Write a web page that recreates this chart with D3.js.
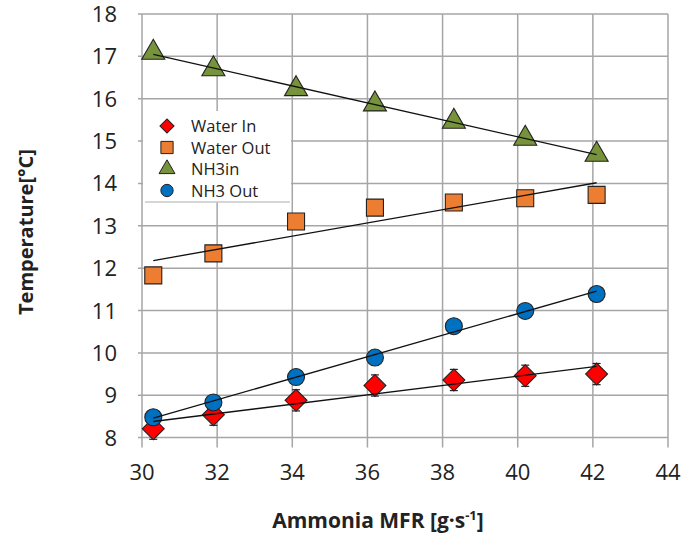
<!DOCTYPE html>
<html lang="en">
<head>
<meta charset="utf-8">
<script src="https://cdn.jsdelivr.net/npm/d3@7"></script>
<style>
  body { margin: 0; background: #fff; }
  text { font-family: "Open Sans", "Noto Sans", sans-serif; fill: #222; }
</style>
</head>
<body>
<script>
// data
var mfr = [30.3, 31.9, 34.1, 36.2, 38.3, 40.2, 42.1];
var waterIn = [8.21, 8.54, 8.88, 9.23, 9.36, 9.46, 9.5];
var waterInErr = [0.25, 0.25, 0.25, 0.25, 0.25, 0.25, 0.25];
var waterOut = [11.83, 12.35, 13.1, 13.43, 13.55, 13.65, 13.73];
var nh3In = [17.09, 16.7, 16.23, 15.87, 15.46, 15.06, 14.68];
var nh3Out = [8.48, 8.83, 9.43, 9.89, 10.63, 10.99, 11.39];
var xTicks = [30, 32, 34, 36, 38, 40, 42, 44];
var yTicks = [8, 9, 10, 11, 12, 13, 14, 15, 16, 17, 18];

var W = 682, H = 535;
var svg = d3.select("body").append("svg").attr("width", W).attr("height", H);

var x = d3.scaleLinear().domain([30, 44]).range([142, 668]);
var y = d3.scaleLinear().domain([8, 18]).range([437.6, 14]);

var gridColor = "#a6a6a6";

// grid
svg.append("g").selectAll("line").data(yTicks).enter().append("line")
    .attr("x1", x(30) - 4).attr("x2", x(44))
    .attr("y1", d => y(d)).attr("y2", d => y(d))
    .attr("stroke", gridColor).attr("stroke-width", 1.5);
svg.append("g").selectAll("line").data(xTicks).enter().append("line")
    .attr("x1", d => x(d)).attr("x2", d => x(d))
    .attr("y1", y(18)).attr("y2", y(8) + 10)
    .attr("stroke", gridColor).attr("stroke-width", 1.5);

// tick labels
svg.append("g").selectAll("text").data(yTicks).enter().append("text")
    .attr("x", 117).attr("y", d => y(d) + 8)
    .attr("text-anchor", "end").attr("font-size", "22px")
    .text(d => d);
svg.append("g").selectAll("text").data(xTicks).enter().append("text")
    .attr("x", d => x(d)).attr("y", 480)
    .attr("text-anchor", "middle").attr("font-size", "22px")
    .text(d => d);

// axis titles
svg.append("text")
    .attr("x", 378).attr("y", 528)
    .attr("text-anchor", "middle").attr("font-size", "21px").attr("font-weight", "bold")
    .html('Ammonia MFR [g·s<tspan dy="-8" font-size="13px">-1</tspan><tspan dy="8">]</tspan>');
svg.append("text")
    .attr("transform", "translate(33,232) rotate(-90)")
    .attr("text-anchor", "middle").attr("font-size", "20px").attr("font-weight", "bold")
    .text("Temperature[°C]");

// series definitions (diamond = square turned 45deg)
var series = [
    { name: "Water In", vals: waterIn, color: "#ff0000", shape: d3.symbolSquare, rot: 45, size: 240, lsize: 100 },
    { name: "Water Out", vals: waterOut, color: "#ed7d31", shape: d3.symbolSquare, rot: 0, size: 289, lsize: 150 },
    { name: "NH3in", vals: nh3In, color: "#77933c", shape: d3.symbolTriangle, rot: 0, size: 230, lsize: 110 },
    { name: "NH3 Out", vals: nh3Out, color: "#0070c0", shape: d3.symbolCircle, rot: 0, size: 227, lsize: 120 }
];

// error bars on water in
var eb = svg.append("g");
mfr.forEach(function (m, i) {
    var lo = waterIn[i] - waterInErr[i], hi = waterIn[i] + waterInErr[i];
    eb.append("line").attr("x1", x(m)).attr("x2", x(m)).attr("y1", y(lo)).attr("y2", y(hi))
        .attr("stroke", "#222").attr("stroke-width", 1.2);
    [lo, hi].forEach(function (v) {
        eb.append("line").attr("x1", x(m) - 4).attr("x2", x(m) + 4).attr("y1", y(v)).attr("y2", y(v))
            .attr("stroke", "#222").attr("stroke-width", 1.2);
    });
});

// markers
function symbolPath(s, sz) {
    return d3.symbol().type(s.shape).size(sz)();
}
series.forEach(function (s) {
    svg.append("g").selectAll("path").data(mfr).enter().append("path")
        .attr("d", symbolPath(s, s.size))
        .attr("transform", (d, i) => "translate(" + x(d) + "," + y(s.vals[i]) + ") rotate(" + s.rot + ")")
        .attr("fill", s.color).attr("stroke", "#222").attr("stroke-width", 1.1);
});

// linear trendlines (least squares)
series.forEach(function (s) {
    var mx = d3.mean(mfr), my = d3.mean(s.vals);
    var num = d3.sum(mfr, (d, i) => (d - mx) * (s.vals[i] - my));
    var den = d3.sum(mfr, d => (d - mx) * (d - mx));
    var b = num / den, a = my - b * mx;
    var x0 = mfr[0], x1 = mfr[mfr.length - 1];
    svg.append("line")
        .attr("x1", x(x0)).attr("y1", y(a + b * x0))
        .attr("x2", x(x1)).attr("y2", y(a + b * x1))
        .attr("stroke", "#111").attr("stroke-width", 1.3);
});

// legend
var lg = svg.append("g");
lg.append("rect").attr("x", x(30) + 1).attr("y", 111).attr("width", 148).attr("height", 91).attr("fill", "#fff");
lg.append("line").attr("x1", 145).attr("x2", 290).attr("y1", 202).attr("y2", 202)
    .attr("stroke", "#c8c8c8").attr("stroke-width", 1.5);
series.forEach(function (s, i) {
    var cy = 126 + i * 21.5;
    lg.append("path").attr("d", symbolPath(s, s.lsize))
        .attr("transform", "translate(167," + cy + ") rotate(" + s.rot + ")")
        .attr("fill", s.color).attr("stroke", "#222").attr("stroke-width", 1);
    lg.append("text").attr("x", 191).attr("y", cy + 6).attr("font-size", "16.5px").text(s.name);
});
</script>
</body>
</html>
